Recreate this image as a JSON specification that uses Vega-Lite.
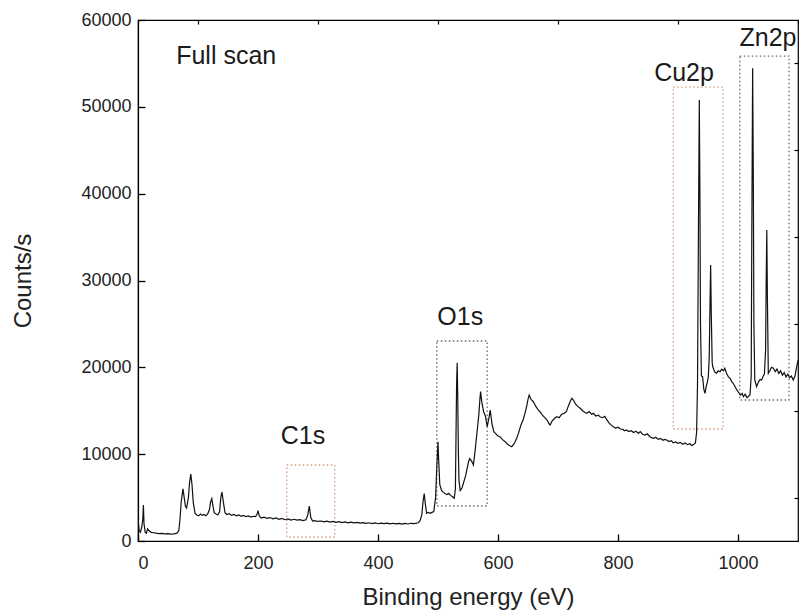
{
  "$schema": "https://vega.github.io/schema/vega-lite/v6.json",
  "width": 660,
  "height": 521,
  "autosize": {"type": "none"},
  "padding": {"left": 138, "top": 20, "right": 1, "bottom": 75},
  "background": "white",
  "config": {
    "view": {"stroke": "black", "strokeWidth": 1.2},
    "font": "Liberation Sans",
    "axis": {"grid": false, "domainColor": "black", "tickColor": "black", "labelColor": "#222", "titleColor": "#222", "labelFont": "Liberation Sans", "titleFont": "Liberation Sans", "titleFontWeight": "normal"}
  },
  "datasets": {
    "spec": [
      {"e":0,"c":2500},{"e":2,"c":1200},{"e":4,"c":1000},{"e":6,"c":1500},{"e":8,"c":2500},{"e":9,"c":4150},{"e":10,"c":2000},{"e":12,"c":1000},
      {"e":14,"c":900},{"e":16,"c":1400},{"e":18,"c":1200},{"e":22,"c":1000},{"e":26,"c":950},{"e":30,"c":900},{"e":35,"c":850},{"e":40,"c":880},
      {"e":45,"c":820},{"e":50,"c":850},{"e":55,"c":800},{"e":60,"c":830},{"e":65,"c":900},{"e":68,"c":1200},{"e":70,"c":2500},{"e":72,"c":4500},
      {"e":75,"c":6000},{"e":77,"c":5000},{"e":79,"c":4000},{"e":81,"c":3800},{"e":84,"c":5000},{"e":86,"c":6800},{"e":88,"c":7700},{"e":90,"c":6500},
      {"e":92,"c":4500},{"e":95,"c":3200},{"e":98,"c":3000},{"e":101,"c":2900},{"e":104,"c":3100},{"e":107,"c":2950},{"e":110,"c":3050},{"e":113,"c":2900},
      {"e":116,"c":3100},{"e":119,"c":3600},{"e":121,"c":4500},{"e":123,"c":4870},{"e":125,"c":4000},{"e":127,"c":3260},{"e":130,"c":3100},{"e":133,"c":3000},
      {"e":136,"c":3400},{"e":138,"c":5000},{"e":140,"c":5640},{"e":142,"c":4600},{"e":145,"c":3260},{"e":148,"c":3050},{"e":152,"c":3150},{"e":156,"c":2950},
      {"e":160,"c":3050},{"e":164,"c":2900},{"e":168,"c":3000},{"e":172,"c":2850},{"e":176,"c":2950},{"e":180,"c":2800},{"e":184,"c":2900},{"e":188,"c":2750},
      {"e":192,"c":2850},{"e":196,"c":2800},{"e":199,"c":3200},{"e":200,"c":3490},{"e":202,"c":2900},{"e":205,"c":2650},{"e":210,"c":2750},{"e":215,"c":2600},
      {"e":220,"c":2700},{"e":225,"c":2550},{"e":230,"c":2650},{"e":235,"c":2500},{"e":240,"c":2600},{"e":245,"c":2450},{"e":250,"c":2550},{"e":255,"c":2400},
      {"e":260,"c":2500},{"e":265,"c":2400},{"e":270,"c":2450},{"e":275,"c":2350},{"e":280,"c":2450},{"e":283,"c":3000},{"e":285.5,"c":4030},{"e":288,"c":2700},
      {"e":291,"c":2300},{"e":295,"c":2350},{"e":300,"c":2250},{"e":305,"c":2300},{"e":310,"c":2200},{"e":315,"c":2280},{"e":320,"c":2180},{"e":325,"c":2250},
      {"e":330,"c":2150},{"e":335,"c":2220},{"e":340,"c":2120},{"e":345,"c":2200},{"e":350,"c":2100},{"e":355,"c":2170},{"e":360,"c":2080},{"e":365,"c":2150},
      {"e":370,"c":2050},{"e":375,"c":2120},{"e":380,"c":2030},{"e":385,"c":2100},{"e":390,"c":2000},{"e":395,"c":2080},{"e":400,"c":1990},{"e":405,"c":2060},
      {"e":410,"c":2000},{"e":415,"c":2050},{"e":420,"c":1970},{"e":425,"c":2040},{"e":430,"c":1980},{"e":435,"c":2030},{"e":440,"c":1950},{"e":445,"c":2020},
      {"e":450,"c":1960},{"e":455,"c":2040},{"e":460,"c":2000},{"e":464,"c":2050},{"e":467,"c":2100},{"e":470,"c":2300},{"e":473,"c":3000},{"e":475,"c":4500},
      {"e":477,"c":5450},{"e":479,"c":4200},{"e":481,"c":3200},{"e":484,"c":3300},{"e":487,"c":3200},{"e":490,"c":3300},{"e":493,"c":3400},{"e":496,"c":5000},
      {"e":498,"c":8500},{"e":500,"c":11440},{"e":501,"c":9500},{"e":503,"c":6500},{"e":506,"c":5800},{"e":509,"c":5600},{"e":512,"c":5450},{"e":515,"c":5350},
      {"e":518,"c":5500},{"e":521,"c":5250},{"e":524,"c":5100},{"e":527,"c":4920},{"e":529,"c":6000},{"e":530,"c":12000},{"e":531,"c":18000},{"e":532,"c":20530},
      {"e":533,"c":16000},{"e":534,"c":10000},{"e":535,"c":7000},{"e":537,"c":5800},{"e":540,"c":6100},{"e":543,"c":6800},{"e":546,"c":7500},{"e":549,"c":8500},
      {"e":551,"c":9130},{"e":553,"c":9500},{"e":556,"c":9200},{"e":559,"c":8750},{"e":562,"c":10500},{"e":565,"c":12500},{"e":568,"c":14500},{"e":570,"c":16500},
      {"e":571,"c":17200},{"e":573,"c":16000},{"e":576,"c":14900},{"e":579,"c":14400},{"e":582,"c":13160},{"e":585,"c":14200},{"e":587,"c":15090},{"e":590,"c":13500},
      {"e":593,"c":12590},{"e":597,"c":12300},{"e":600,"c":12100},{"e":603,"c":12010},{"e":607,"c":11700},{"e":611,"c":11500},{"e":615,"c":11200},{"e":619,"c":11000},
      {"e":623,"c":10860},{"e":627,"c":11200},{"e":631,"c":11800},{"e":634,"c":12400},{"e":638,"c":13300},{"e":642,"c":14000},{"e":645,"c":14700},{"e":648,"c":15600},
      {"e":650,"c":16300},{"e":652,"c":16810},{"e":655,"c":16300},{"e":659,"c":16040},{"e":663,"c":15500},{"e":667,"c":15100},{"e":670,"c":14890},{"e":674,"c":14500},
      {"e":678,"c":14200},{"e":682,"c":13900},{"e":685,"c":13500},{"e":687,"c":13360},{"e":690,"c":13800},{"e":694,"c":14100},{"e":698,"c":14310},{"e":702,"c":14200},
      {"e":706,"c":14600},{"e":710,"c":14700},{"e":714,"c":14890},{"e":717,"c":15500},{"e":720,"c":16000},{"e":723,"c":16430},{"e":726,"c":16200},{"e":729,"c":15800},
      {"e":733,"c":15500},{"e":737,"c":15280},{"e":741,"c":15000},{"e":745,"c":14800},{"e":748,"c":14700},{"e":752,"c":14900},{"e":756,"c":14600},{"e":759,"c":14700},
      {"e":763,"c":14400},{"e":767,"c":14500},{"e":770,"c":14310},{"e":774,"c":14200},{"e":778,"c":14350},{"e":781,"c":14000},{"e":785,"c":13600},{"e":788,"c":13400},
      {"e":792,"c":13160},{"e":796,"c":13000},{"e":800,"c":13100},{"e":804,"c":12900},{"e":808,"c":12850},{"e":811,"c":12700},{"e":814,"c":12780},{"e":818,"c":12600},
      {"e":822,"c":12700},{"e":826,"c":12500},{"e":830,"c":12650},{"e":834,"c":12400},{"e":837,"c":12590},{"e":841,"c":12300},{"e":845,"c":12200},{"e":849,"c":12350},
      {"e":853,"c":12010},{"e":856,"c":11900},{"e":859,"c":11830},{"e":863,"c":11950},{"e":867,"c":11700},{"e":871,"c":11800},{"e":875,"c":11600},{"e":878,"c":11700},
      {"e":881,"c":11630},{"e":885,"c":11450},{"e":889,"c":11550},{"e":892,"c":11300},{"e":896,"c":11400},{"e":900,"c":11250},{"e":904,"c":11350},{"e":908,"c":11150},
      {"e":912,"c":11300},{"e":916,"c":11100},{"e":920,"c":11200},{"e":923,"c":11000},{"e":926,"c":11100},{"e":929,"c":11300},{"e":931,"c":12500},{"e":932.5,"c":18000},
      {"e":934,"c":35000},{"e":935.5,"c":50790},{"e":936.5,"c":40000},{"e":937.5,"c":25000},{"e":939,"c":19000},{"e":941,"c":18920},{"e":943,"c":17500},{"e":945,"c":17010},
      {"e":947,"c":17800},{"e":949,"c":18300},{"e":950.5,"c":18920},{"e":952,"c":21000},{"e":953.5,"c":28000},{"e":954.4,"c":31780},{"e":955.5,"c":26000},{"e":957,"c":20500},
      {"e":958,"c":20070},{"e":961,"c":19500},{"e":964,"c":19310},{"e":967,"c":19600},{"e":970,"c":19500},{"e":973,"c":19800},{"e":976,"c":19600},{"e":978,"c":19890},
      {"e":981,"c":19300},{"e":984,"c":18900},{"e":987,"c":18700},{"e":990,"c":18300},{"e":992,"c":18160},{"e":995,"c":17800},{"e":998,"c":17400},{"e":1001,"c":17100},
      {"e":1004,"c":16800},{"e":1007,"c":17000},{"e":1009,"c":16620},{"e":1012,"c":16900},{"e":1015,"c":16500},{"e":1018,"c":16700},{"e":1020,"c":16810},{"e":1022,"c":19000},
      {"e":1023,"c":35000},{"e":1024.4,"c":54440},{"e":1025.5,"c":42000},{"e":1026.5,"c":25000},{"e":1028,"c":18540},{"e":1031,"c":17770},{"e":1034,"c":18300},{"e":1037,"c":18600},
      {"e":1039.4,"c":18540},{"e":1042,"c":19000},{"e":1044,"c":19200},{"e":1046,"c":22000},{"e":1047,"c":30000},{"e":1048,"c":35810},{"e":1049,"c":28000},{"e":1050.5,"c":19310},
      {"e":1053,"c":19600},{"e":1056,"c":20000},{"e":1059,"c":19890},{"e":1062,"c":19500},{"e":1065,"c":19800},{"e":1068,"c":19300},{"e":1071,"c":19600},{"e":1074,"c":19100},
      {"e":1077,"c":19400},{"e":1080,"c":18900},{"e":1083,"c":19200},{"e":1086,"c":18800},{"e":1089,"c":19000},{"e":1092,"c":18540},{"e":1095,"c":19000},{"e":1097,"c":19800},
      {"e":1100,"c":20800}
    ],
    "boxes": [
      {"x1":248,"x2":328,"y1":460,"y2":8750,"kind":"orange"},
      {"x1":498,"x2":582,"y1":4030,"y2":23030,"kind":"grey"},
      {"x1":892,"x2":975,"y1":12900,"y2":52280,"kind":"orange"},
      {"x1":1003,"x2":1085,"y1":16240,"y2":55850,"kind":"grey"}
    ],
    "labels": [
      {"x":147,"y":55900,"t":"Full scan"},
      {"x":275,"y":12100,"t":"C1s"},
      {"x":537,"y":25800,"t":"O1s"},
      {"x":910,"y":53900,"t":"Cu2p"},
      {"x":1050,"y":57950,"t":"Zn2p"}
    ]
  },
  "resolve": {"axis": {"x": "independent", "y": "independent"}},
  "layer": [
    {
      "data": {"name": "boxes"},
      "mark": {"type": "rect", "fill": null, "fillOpacity": 0, "strokeWidth": 1.3, "strokeDash": [1.5, 2.5]},
      "encoding": {
        "x": {"field": "x1", "type": "quantitative", "scale": {"domain": [0, 1100], "nice": false, "zero": false},
          "axis": {"values": [0,200,400,600,800,1000], "format": "d", "tickSize": -7, "tickWidth": 1.3, "labelFontSize": 18, "labelPadding": 20, "title": "Binding energy (eV)", "titleFontSize": 24, "titlePadding": 13, "domainWidth": 1.2}},
        "x2": {"field": "x2"},
        "y": {"field": "y1", "type": "quantitative", "scale": {"domain": [0, 60000], "nice": false},
          "axis": {"values": [0,10000,20000,30000,40000,50000,60000], "format": "d", "tickSize": -7, "tickWidth": 1.3, "labelFontSize": 18, "labelPadding": 14, "title": "Counts/s", "titleFontSize": 24, "titlePadding": 45, "domainWidth": 1.2}},
        "y2": {"field": "y2"},
        "stroke": {"field": "kind", "type": "nominal", "scale": {"domain": ["orange", "grey"], "range": ["#d49a80", "#6a6a6a"]}, "legend": null}
      }
    },
    {
      "data": {"name": "spec"},
      "mark": {"type": "line", "color": "#111", "strokeWidth": 1.2, "clip": true},
      "encoding": {
        "x": {"field": "e", "type": "quantitative", "axis": {"values": [100,300,500,700,900,1100], "labels": false, "tickSize": -4, "tickWidth": 1.2, "domain": false, "title": null}},
        "y": {"field": "c", "type": "quantitative", "axis": {"values": [5000,15000,25000,35000,45000,55000], "labels": false, "tickSize": -4, "tickWidth": 1.2, "domain": false, "title": null}}
      }
    },
    {
      "data": {"name": "labels"},
      "mark": {"type": "text", "fontSize": 25, "color": "#1a1a1a", "font": "Liberation Sans", "baseline": "middle", "align": "center"},
      "encoding": {
        "x": {"field": "x", "type": "quantitative", "axis": null},
        "y": {"field": "y", "type": "quantitative", "axis": null},
        "text": {"field": "t"}
      }
    }
  ]
}
